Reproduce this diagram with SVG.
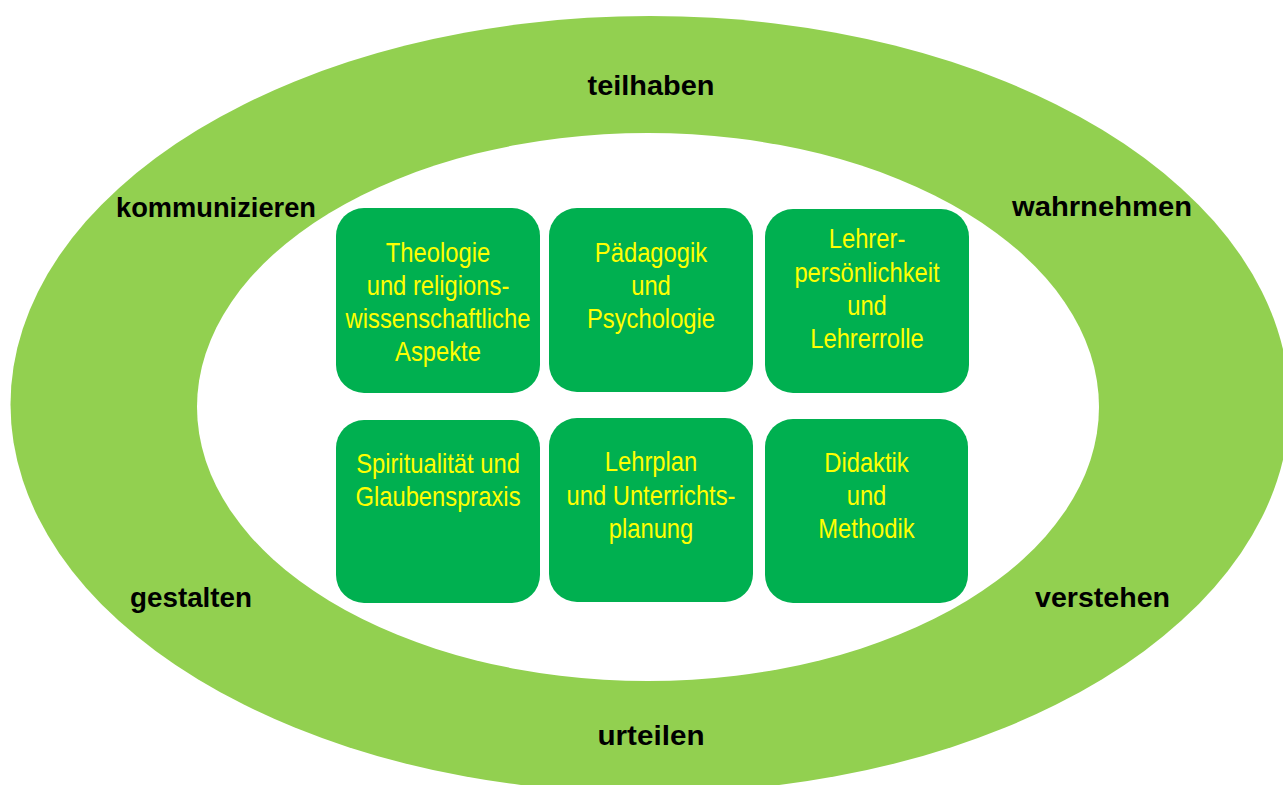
<svg xmlns="http://www.w3.org/2000/svg" width="1283" height="785" viewBox="0 0 1283 785">
<style>
.ring{fill:#92D050}
.inner{fill:#FFFFFF}
.box{fill:#00B050}
.bt{font-family:"Liberation Sans",Arial,sans-serif;font-size:27px;fill:#FFFF00;text-anchor:middle}
.lb{font-family:"Liberation Sans",Arial,sans-serif;font-size:28px;font-weight:bold;fill:#000000;text-anchor:middle}
</style>
<rect width="1283" height="785" fill="#FFFFFF"/>
<g id="ring">
<ellipse class="ring" cx="650" cy="404.5" rx="639.5" ry="388.5"/>
<ellipse class="inner" cx="648" cy="407" rx="451" ry="274"/>
</g>
<g id="labels">
<text id="l-teilhaben" class="lb" x="651" y="95" textLength="127" lengthAdjust="spacingAndGlyphs">teilhaben</text>
<text id="l-kommunizieren" class="lb" x="216" y="217" textLength="200" lengthAdjust="spacingAndGlyphs">kommunizieren</text>
<text id="l-wahrnehmen" class="lb" x="1102" y="216" textLength="180" lengthAdjust="spacingAndGlyphs">wahrnehmen</text>
<text id="l-gestalten" class="lb" x="191" y="607" textLength="122" lengthAdjust="spacingAndGlyphs">gestalten</text>
<text id="l-verstehen" class="lb" x="1102.5" y="607" textLength="135" lengthAdjust="spacingAndGlyphs">verstehen</text>
<text id="l-urteilen" class="lb" x="651" y="745" textLength="107" lengthAdjust="spacingAndGlyphs">urteilen</text>
</g>
<g id="connectors"></g>
<g id="n1">
<rect class="box" x="336" y="208" width="204" height="185" rx="28"/>
<g transform="translate(438,0) scale(0.88,1)">
<text class="bt" x="0" y="262">Theologie</text>
<text class="bt" x="0" y="295">und religions-</text>
<text class="bt" x="0" y="328">wissenschaftliche</text>
<text class="bt" x="0" y="361.5">Aspekte</text>
</g>
</g>
<g id="n2">
<rect class="box" x="549" y="208" width="204" height="184" rx="28"/>
<g transform="translate(651,0) scale(0.88,1)">
<text class="bt" x="0" y="262">Pädagogik</text>
<text class="bt" x="0" y="295">und</text>
<text class="bt" x="0" y="328">Psychologie</text>
</g>
</g>
<g id="n3">
<rect class="box" x="765" y="209" width="204" height="184" rx="28"/>
<g transform="translate(867,0) scale(0.88,1)">
<text class="bt" x="0" y="248">Lehrer-</text>
<text class="bt" x="0" y="282">persönlichkeit</text>
<text class="bt" x="0" y="315">und</text>
<text class="bt" x="0" y="348">Lehrerrolle</text>
</g>
</g>
<g id="n4">
<rect class="box" x="336" y="420" width="204" height="183" rx="28"/>
<g transform="translate(438,0) scale(0.88,1)">
<text class="bt" x="0" y="473">Spiritualität und</text>
<text class="bt" x="0" y="506">Glaubenspraxis</text>
</g>
</g>
<g id="n5">
<rect class="box" x="549" y="418" width="204" height="184" rx="28"/>
<g transform="translate(651,0) scale(0.88,1)">
<text class="bt" x="0" y="471">Lehrplan</text>
<text class="bt" x="0" y="505">und Unterrichts-</text>
<text class="bt" x="0" y="538">planung</text>
</g>
</g>
<g id="n6">
<rect class="box" x="765" y="419" width="203" height="184" rx="28"/>
<g transform="translate(866.5,0) scale(0.88,1)">
<text class="bt" x="0" y="472">Didaktik</text>
<text class="bt" x="0" y="505">und</text>
<text class="bt" x="0" y="538">Methodik</text>
</g>
</g>
</svg>
